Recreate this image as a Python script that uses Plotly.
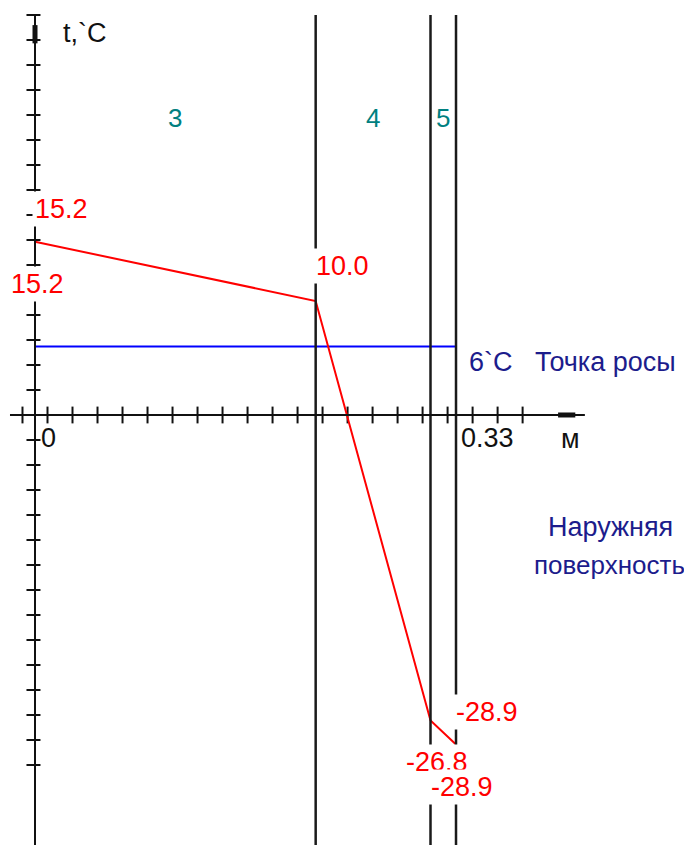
import numpy as np
import plotly.graph_objects as go

# wall layers: boundaries along thickness (m) and layer numbers
layer_bounds = [0.0, 0.22, 0.31, 0.33]
layer_names = ['3', '4', '5']

# temperature at each boundary, °C
temps = [15.2, 10.0, -26.8, -28.9]
inner_air = 15.2
outer_air = -28.9
dew_point = 6.0

# unlabeled axis tick spacing
x_tick_step = 0.0196
y_tick_step = 2.193

# page has an 8px body margin, so the figure is a bit smaller than the window
W, H, OFF = 684, 837, 8
X_RANGE = [-0.02116, 0.51497]
Y_RANGE = [-37.72, 35.70]
X_END = 0.431   # end of the x axis arrow
Y_END = 35.09   # end of the y axis arrow

FONT = 'Liberation Sans, Arial, sans-serif'
RED = '#ff0000'
NAVY = '#1c1c8c'
TEAL = '#008080'


def paper_x(px):
    return (px - OFF) / W


def paper_y(py):
    return 1 - (py - OFF) / H


fig = go.Figure()

# tick marks on both axes
x_ticks = x_tick_step * (np.arange(-1, 20) + 0.5)
y_ticks = y_tick_step * np.arange(-14, 18)
y_ticks = y_ticks[y_ticks != 0]
fig.add_trace(go.Scatter(
    x=x_ticks, y=np.zeros_like(x_ticks), mode='markers',
    marker=dict(symbol='line-ns', size=12, line=dict(color='#111', width=2)),
    hoverinfo='skip', showlegend=False
))
fig.add_trace(go.Scatter(
    x=np.zeros_like(y_ticks) - 0.0012, y=y_ticks, mode='markers',
    marker=dict(symbol='line-ew', size=10, line=dict(color='#111', width=2)),
    hoverinfo='skip', showlegend=False
))

# dew point line
fig.add_trace(go.Scatter(
    x=[layer_bounds[0], layer_bounds[-1]], y=[dew_point, dew_point],
    mode='lines', line=dict(color='#0000ff', width=2),
    hoverinfo='skip', showlegend=False
))

# temperature profile
fig.add_trace(go.Scatter(
    x=layer_bounds, y=temps, mode='lines',
    line=dict(color=RED, width=2),
    hovertemplate='%{x:.2f} м<br>%{y:.1f} °C<extra></extra>',
    showlegend=False
))

shapes = []
# layer boundaries
for b in layer_bounds[1:]:
    shapes.append(dict(type='line', xref='x', yref='y', x0=b, x1=b,
                       y0=Y_RANGE[0], y1=Y_END,
                       line=dict(color='#1a1a1a', width=2.5)))
# axes with arrow bars
shapes.append(dict(type='line', xref='x', yref='y', x0=0, x1=0,
                   y0=Y_RANGE[0], y1=Y_END, line=dict(color='#111', width=2)))
shapes.append(dict(type='line', xref='x', yref='y', x0=-0.0196, x1=X_END,
                   y0=0, y1=0, line=dict(color='#111', width=2)))
shapes.append(dict(type='line', xref='x', yref='y', x0=0, x1=0,
                   y0=32.6, y1=34.2, line=dict(color='#111', width=5)))
shapes.append(dict(type='line', xref='x', yref='y', x0=0.410, x1=0.4235,
                   y0=0, y1=0, line=dict(color='#111', width=5)))

annotations = []


def note(text, x, y, color, xanchor='center', xshift=0, yshift=0,
         xref='x', yref='y', bg=None, size=27):
    annotations.append(dict(
        text=text, x=x, y=y, xref=xref, yref=yref, showarrow=False,
        xanchor=xanchor, yanchor='middle', xshift=xshift, yshift=yshift,
        font=dict(family=FONT, size=size, color=color),
        bgcolor=bg, borderpad=2
    ))


# layer numbers
for name, a, b in zip(layer_names, layer_bounds[:-1], layer_bounds[1:]):
    note(name, (a + b) / 2, paper_y(118), TEAL, yref='paper', size=26)

# temperature labels
note(f'{inner_air:.1f}', 0, temps[0], RED, 'left', -3, 33, bg='white')
note(f'{temps[0]:.1f}', 0, temps[0], RED, 'center', 2, -42, bg='white')
note(f'{temps[1]:.1f}', layer_bounds[1], temps[1], RED, 'left', -3, 35, bg='white')
note(f'{outer_air:.1f}', layer_bounds[3], temps[3], RED, 'left', -3, 32, bg='white')
note(f'{temps[2]:.1f}', layer_bounds[2], temps[2], RED, 'center', 6, -41, bg='white')
note(f'{temps[3]:.1f}', layer_bounds[3], temps[3], RED, 'center', 6, -43, bg='white')

# dew point text
note(f'{dew_point:.0f}`C', layer_bounds[-1], dew_point, NAVY, 'left', 10, -15)
note('Точка росы', layer_bounds[-1], dew_point, NAVY, 'left', 76, -15)

# axis captions
note('t,`C', paper_x(60), paper_y(33), '#111', 'left', xref='paper', yref='paper')
note('0', 0, 0, '#111', 'left', 3, -23)
note(f'{layer_bounds[-1]:.2f}', layer_bounds[-1], 0, '#111', 'left', 2, -23)
note('м', paper_x(570), paper_y(439), '#111', xref='paper', yref='paper')

# outer surface caption
note('Наружняя', paper_x(610), paper_y(527), NAVY, xref='paper', yref='paper')
note('поверхность', paper_x(609), paper_y(565), NAVY, xref='paper', yref='paper',
     size=26)

fig.update_layout(
    width=W, height=H,
    margin=dict(l=0, r=0, t=0, b=0, pad=0),
    plot_bgcolor='white', paper_bgcolor='white',
    xaxis=dict(range=X_RANGE, visible=False, fixedrange=True),
    yaxis=dict(range=Y_RANGE, visible=False, fixedrange=True),
    shapes=shapes, annotations=annotations,
    showlegend=False
)

fig.write_html("out.html")
